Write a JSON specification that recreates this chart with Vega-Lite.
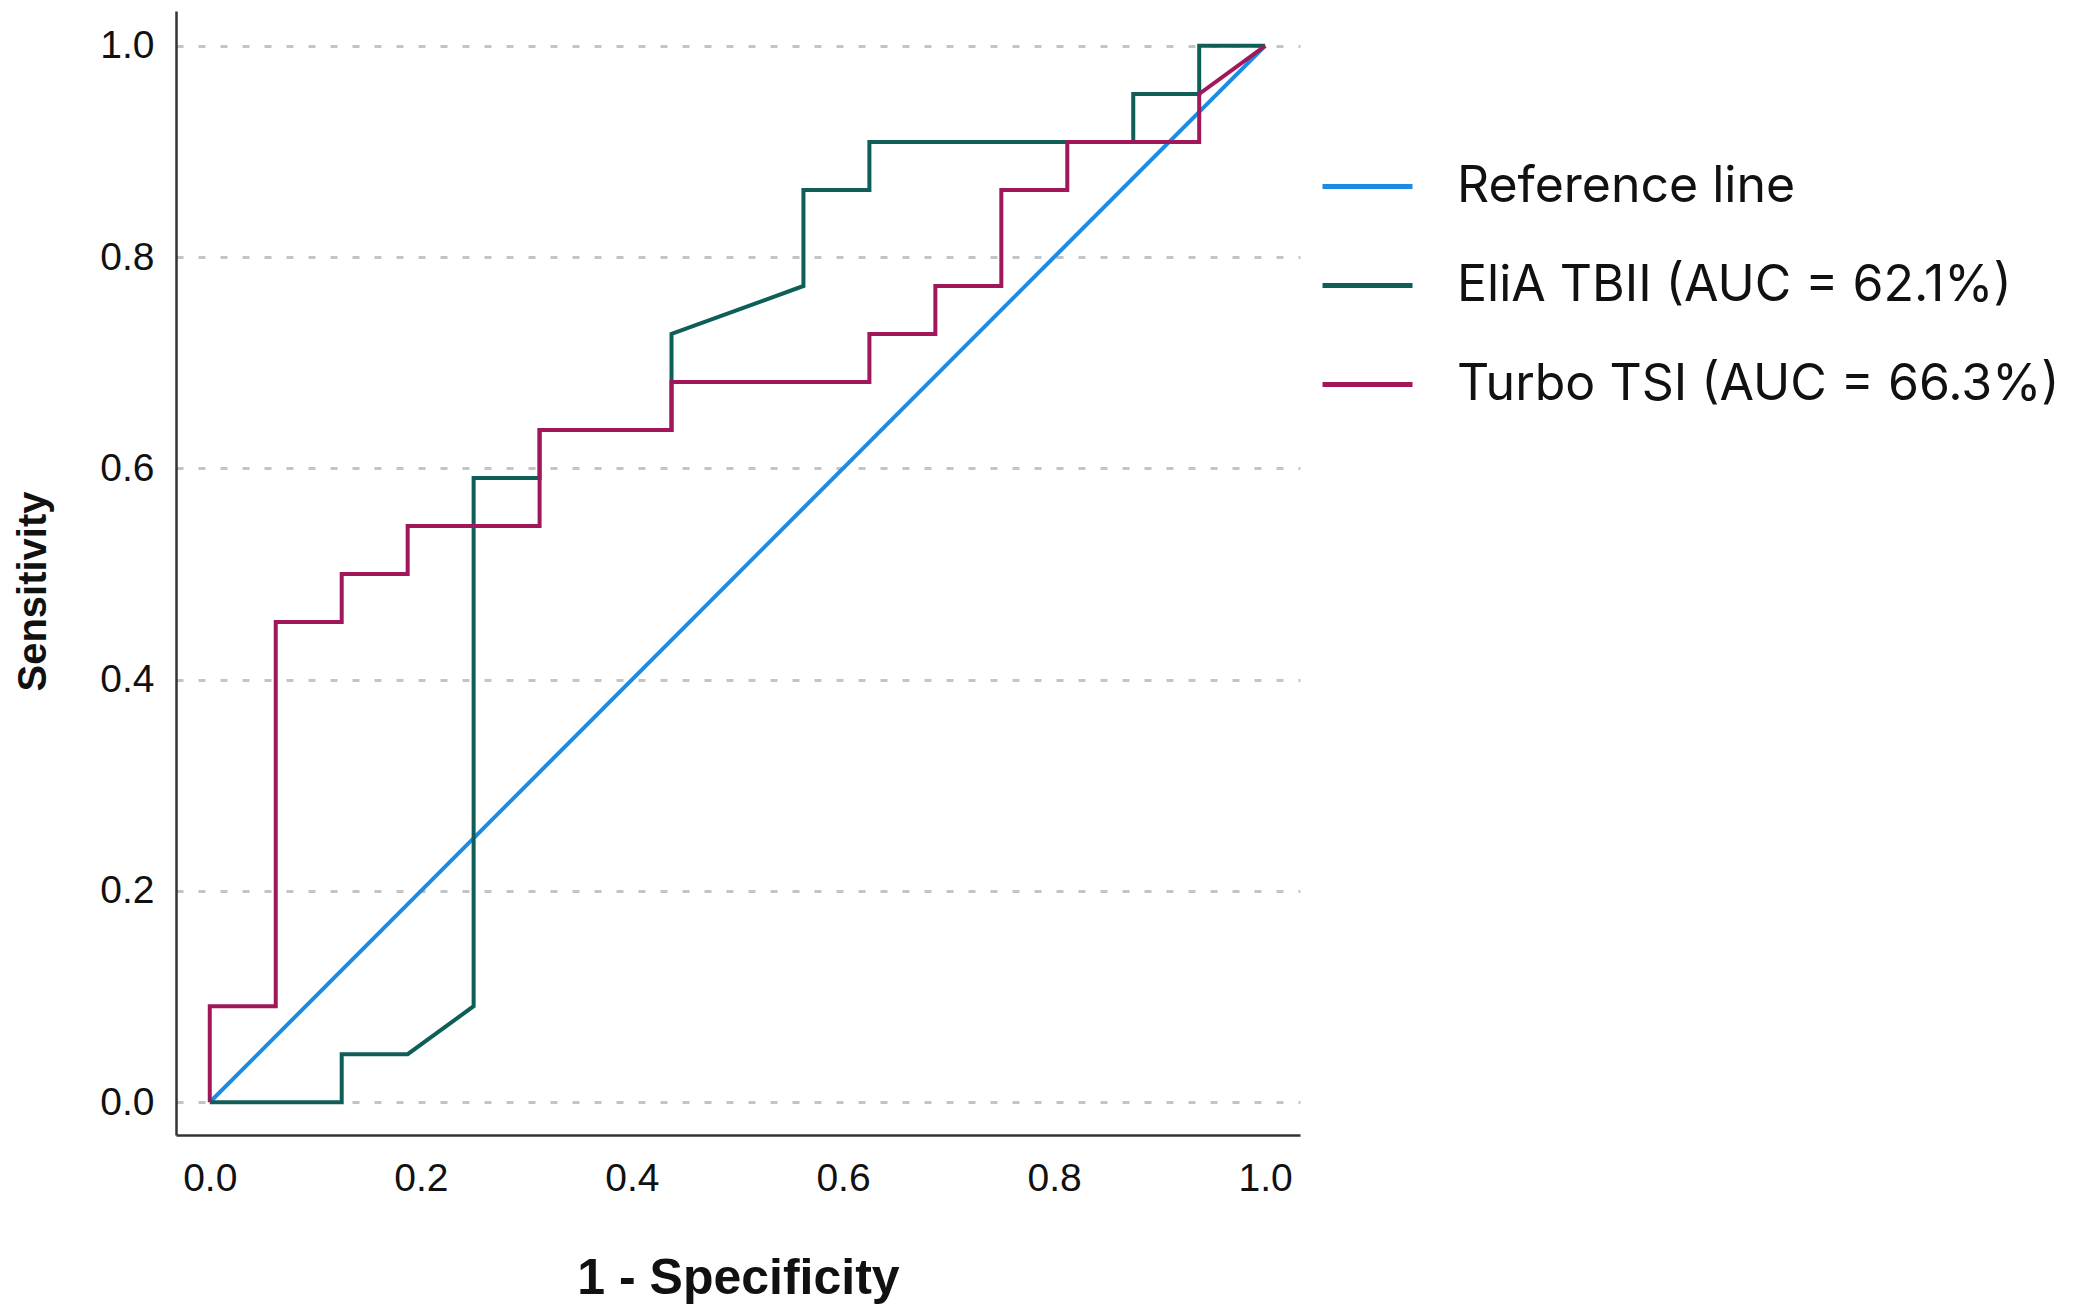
{
  "$schema": "https://vega.github.io/schema/vega-lite/v6.json",
  "width": 1124,
  "height": 1124,
  "autosize": {"type": "none"},
  "padding": {"left": 176, "top": 11, "right": 780, "bottom": 178},
  "background": "white",
  "config": {
    "view": {"stroke": null},
    "font": "Liberation Sans"
  },
  "data": {
    "values": [
      {"series": "Reference line", "i": 0, "fpr": 0, "tpr": 0},
      {"series": "Reference line", "i": 1, "fpr": 1, "tpr": 1},

      {"series": "EliA TBII (AUC = 62.1%)", "i": 0, "fpr": 0, "tpr": 0},
      {"series": "EliA TBII (AUC = 62.1%)", "i": 1, "fpr": 0.125, "tpr": 0},
      {"series": "EliA TBII (AUC = 62.1%)", "i": 2, "fpr": 0.125, "tpr": 0.0455},
      {"series": "EliA TBII (AUC = 62.1%)", "i": 3, "fpr": 0.1875, "tpr": 0.0455},
      {"series": "EliA TBII (AUC = 62.1%)", "i": 4, "fpr": 0.25, "tpr": 0.0909},
      {"series": "EliA TBII (AUC = 62.1%)", "i": 5, "fpr": 0.25, "tpr": 0.5909},
      {"series": "EliA TBII (AUC = 62.1%)", "i": 6, "fpr": 0.3125, "tpr": 0.5909},
      {"series": "EliA TBII (AUC = 62.1%)", "i": 7, "fpr": 0.3125, "tpr": 0.6364},
      {"series": "EliA TBII (AUC = 62.1%)", "i": 8, "fpr": 0.4375, "tpr": 0.6364},
      {"series": "EliA TBII (AUC = 62.1%)", "i": 9, "fpr": 0.4375, "tpr": 0.7273},
      {"series": "EliA TBII (AUC = 62.1%)", "i": 10, "fpr": 0.5625, "tpr": 0.7727},
      {"series": "EliA TBII (AUC = 62.1%)", "i": 11, "fpr": 0.5625, "tpr": 0.8636},
      {"series": "EliA TBII (AUC = 62.1%)", "i": 12, "fpr": 0.625, "tpr": 0.8636},
      {"series": "EliA TBII (AUC = 62.1%)", "i": 13, "fpr": 0.625, "tpr": 0.9091},
      {"series": "EliA TBII (AUC = 62.1%)", "i": 14, "fpr": 0.875, "tpr": 0.9091},
      {"series": "EliA TBII (AUC = 62.1%)", "i": 15, "fpr": 0.875, "tpr": 0.9545},
      {"series": "EliA TBII (AUC = 62.1%)", "i": 16, "fpr": 0.9375, "tpr": 0.9545},
      {"series": "EliA TBII (AUC = 62.1%)", "i": 17, "fpr": 0.9375, "tpr": 1},
      {"series": "EliA TBII (AUC = 62.1%)", "i": 18, "fpr": 1, "tpr": 1},

      {"series": "Turbo TSI (AUC = 66.3%)", "i": 0, "fpr": 0, "tpr": 0},
      {"series": "Turbo TSI (AUC = 66.3%)", "i": 1, "fpr": 0, "tpr": 0.0909},
      {"series": "Turbo TSI (AUC = 66.3%)", "i": 2, "fpr": 0.0625, "tpr": 0.0909},
      {"series": "Turbo TSI (AUC = 66.3%)", "i": 3, "fpr": 0.0625, "tpr": 0.4545},
      {"series": "Turbo TSI (AUC = 66.3%)", "i": 4, "fpr": 0.125, "tpr": 0.4545},
      {"series": "Turbo TSI (AUC = 66.3%)", "i": 5, "fpr": 0.125, "tpr": 0.5},
      {"series": "Turbo TSI (AUC = 66.3%)", "i": 6, "fpr": 0.1875, "tpr": 0.5},
      {"series": "Turbo TSI (AUC = 66.3%)", "i": 7, "fpr": 0.1875, "tpr": 0.5455},
      {"series": "Turbo TSI (AUC = 66.3%)", "i": 8, "fpr": 0.3125, "tpr": 0.5455},
      {"series": "Turbo TSI (AUC = 66.3%)", "i": 9, "fpr": 0.3125, "tpr": 0.6364},
      {"series": "Turbo TSI (AUC = 66.3%)", "i": 10, "fpr": 0.4375, "tpr": 0.6364},
      {"series": "Turbo TSI (AUC = 66.3%)", "i": 11, "fpr": 0.4375, "tpr": 0.6818},
      {"series": "Turbo TSI (AUC = 66.3%)", "i": 12, "fpr": 0.625, "tpr": 0.6818},
      {"series": "Turbo TSI (AUC = 66.3%)", "i": 13, "fpr": 0.625, "tpr": 0.7273},
      {"series": "Turbo TSI (AUC = 66.3%)", "i": 14, "fpr": 0.6875, "tpr": 0.7273},
      {"series": "Turbo TSI (AUC = 66.3%)", "i": 15, "fpr": 0.6875, "tpr": 0.7727},
      {"series": "Turbo TSI (AUC = 66.3%)", "i": 16, "fpr": 0.75, "tpr": 0.7727},
      {"series": "Turbo TSI (AUC = 66.3%)", "i": 17, "fpr": 0.75, "tpr": 0.8636},
      {"series": "Turbo TSI (AUC = 66.3%)", "i": 18, "fpr": 0.8125, "tpr": 0.8636},
      {"series": "Turbo TSI (AUC = 66.3%)", "i": 19, "fpr": 0.8125, "tpr": 0.9091},
      {"series": "Turbo TSI (AUC = 66.3%)", "i": 20, "fpr": 0.9375, "tpr": 0.9091},
      {"series": "Turbo TSI (AUC = 66.3%)", "i": 21, "fpr": 0.9375, "tpr": 0.9545},
      {"series": "Turbo TSI (AUC = 66.3%)", "i": 22, "fpr": 1, "tpr": 1}
    ]
  },
  "mark": {"type": "line", "strokeWidth": 4, "strokeJoin": "miter", "clip": false},
  "encoding": {
    "x": {
      "field": "fpr",
      "type": "quantitative",
      "scale": {"domain": [-0.032, 1.033], "nice": false, "zero": false},
      "axis": {
        "title": "1 - Specificity",
        "values": [0, 0.2, 0.4, 0.6, 0.8, 1.0],
        "format": ".1f",
        "grid": false,
        "ticks": false,
        "tickSize": 0,
        "domainColor": "#333333",
        "domainWidth": 2.5,
        "labelFont": "Liberation Sans",
        "labelFontSize": 39,
        "labelColor": "#111111",
        "labelPadding": 24,
        "titleFont": "Liberation Sans",
        "titleFontSize": 50,
        "titleFontWeight": "bold",
        "titleColor": "#111111",
        "titleBaseline": "alphabetic",
        "titleY": 158
      }
    },
    "y": {
      "field": "tpr",
      "type": "quantitative",
      "scale": {"domain": [-0.031, 1.033], "nice": false, "zero": false},
      "axis": {
        "title": "Sensitivity",
        "values": [0, 0.2, 0.4, 0.6, 0.8, 1.0],
        "format": ".1f",
        "grid": true,
        "gridColor": "#c4c4c4",
        "gridWidth": 3,
        "gridDash": [7, 15],
        "ticks": false,
        "tickSize": 0,
        "domainColor": "#333333",
        "domainWidth": 2.5,
        "labelFont": "Liberation Sans",
        "labelFontSize": 39,
        "labelColor": "#111111",
        "labelPadding": 22,
        "titleFont": "Liberation Sans",
        "titleFontSize": 40,
        "titleFontWeight": "bold",
        "titleColor": "#111111",
        "titleBaseline": "bottom",
        "titleX": -123,
        "titleY": 580
      }
    },
    "color": {
      "field": "series",
      "type": "nominal",
      "scale": {
        "domain": ["Reference line", "EliA TBII (AUC = 62.1%)", "Turbo TSI (AUC = 66.3%)"],
        "range": ["#1b8ce6", "#0f5e58", "#a0185a"]
      },
      "legend": {
        "title": null,
        "orient": "none",
        "legendX": 1144,
        "legendY": 128,
        "symbolType": "stroke",
        "symbolSize": 8100,
        "symbolStrokeWidth": 5,
        "labelFont": "Inter",
        "labelFontSize": 50,
        "labelColor": "#111111",
        "labelOffset": 42,
        "labelLimit": 0,
        "rowPadding": 26
      }
    },
    "order": {"field": "i", "type": "quantitative"}
  }
}
